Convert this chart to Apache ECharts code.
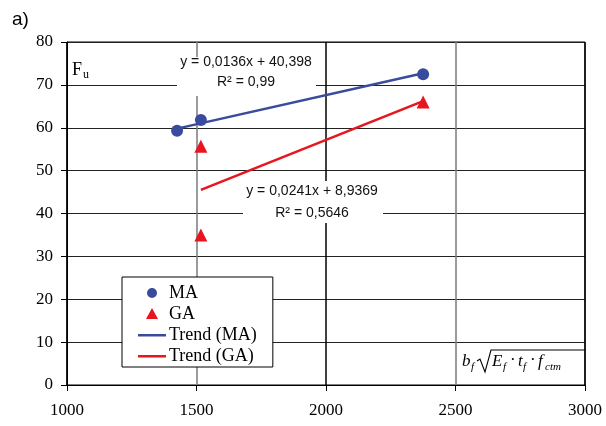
<!DOCTYPE html>
<html><head><meta charset="utf-8">
<script src="https://cdn.jsdelivr.net/npm/echarts@6/dist/echarts.min.js"></script>
<style>html,body{margin:0;padding:0;background:#fff}#c{width:606px;height:426px}</style>
</head><body><div id="c"></div>
<script>
// Data
var maX = [1425, 1517, 2375];
var maY = [59.3, 61.8, 72.5];
var gaX = [1517, 1517, 2375];
var gaY = [55.7, 35.0, 66.0];
var trendMAx = [1425, 2375];
var trendMAy = [59.8, 72.7];
var trendGAx = [1517, 2375];
var trendGAy = [45.5, 66.2];
var xTicks = [1000, 1500, 2000, 2500, 3000];
var yTicks = [0, 10, 20, 30, 40, 50, 60, 70, 80];
var eqMA = ['y = 0,0136x + 40,398', 'R² = 0,99'];
var eqGA = ['y = 0,0241x + 8,9369', 'R² = 0,5646'];

function pairs(xs, ys){ return xs.map(function(x,i){return [x, ys[i]];}); }

var serif = '"Liberation Serif", "Times New Roman", serif';
var sans = '"Liberation Sans", Arial, sans-serif';
var lineIcon = 'path://M0,0 M0,6 L28,6 L28,8.5 L0,8.5 Z M28,14';
var chart = echarts.init(document.getElementById('c'));
chart.setOption({
  animation: false,
  backgroundColor: '#fff',
  grid: {left: 67, right: 21, top: 42, bottom: 41, show: true, borderColor: '#000', borderWidth: 1},
  xAxis: {
    type: 'value', min: xTicks[0], max: xTicks[xTicks.length-1], interval: 500,
    axisLine: {show: true, lineStyle: {color: '#000', width: 1}},
    axisTick: {show: true, length: 6, lineStyle: {color: '#000'}},
    axisLabel: {color: '#000', fontFamily: serif, fontSize: 17, margin: 17, formatter: function(v){return String(v);}},
    splitLine: {show: true, lineStyle: {color: ['#000', '#7a7a7a', '#000', '#7a7a7a', '#000'], width: 1.5}}
  },
  yAxis: {
    type: 'value', min: yTicks[0], max: yTicks[yTicks.length-1], interval: 10,
    axisLine: {show: true, lineStyle: {color: '#000', width: 1}},
    axisTick: {show: true, length: 6, lineStyle: {color: '#000'}},
    axisLabel: {color: '#000', fontFamily: serif, fontSize: 17, margin: 14, formatter: function(v){return String(v);}},
    splitLine: {show: true, lineStyle: {color: '#222', width: 1}}
  },
  legend: {
    orient: 'vertical', left: 122, top: 277,
    backgroundColor: '#fff', borderColor: '#000', borderWidth: 1,
    padding: [7, 16, 2, 16], itemGap: 3, itemWidth: 28, itemHeight: 14,
    textStyle: {fontFamily: serif, fontSize: 18, color: '#000', padding: [0,0,0,-2]},
    data: [
      {name: 'MA', icon: 'path://M0,0 M14,2 a5,5 0 1,0 0.01,0 Z M28,14'},
      {name: 'GA', icon: 'path://M0,0 M14,1 L20,12 L8,12 Z M28,14'},
      {name: 'Trend (MA)', icon: lineIcon},
      {name: 'Trend (GA)', icon: lineIcon}
    ]
  },
  series: [
    {name: 'Trend (MA)', type: 'line', data: pairs(trendMAx, trendMAy), showSymbol: false, symbol: 'none',
     lineStyle: {color: '#3a4a9c', width: 2.5}, itemStyle: {color: '#3a4a9c'}, z: 3},
    {name: 'Trend (GA)', type: 'line', data: pairs(trendGAx, trendGAy), showSymbol: false, symbol: 'none',
     lineStyle: {color: '#e8141e', width: 2.5}, itemStyle: {color: '#e8141e'}, z: 3},
    {name: 'MA', type: 'scatter', data: pairs(maX, maY), symbol: 'circle', symbolSize: 12,
     itemStyle: {color: '#3a4a9c', opacity: 1}, z: 4},
    {name: 'GA', type: 'scatter', data: pairs(gaX, gaY), symbol: 'triangle', symbolSize: 13,
     itemStyle: {color: '#e8141e', opacity: 1}, z: 4}
  ],
  graphic: [
    {type: 'rect', shape: {x: 177, y: 57, width: 139, height: 39}, style: {fill: '#fff'}, z: 50},
    {type: 'text', x: 246, y: 62, z: 51, style: {text: eqMA[0], font: '14px ' + sans, fill: '#111', align: 'center', verticalAlign: 'middle'}},
    {type: 'text', x: 246, y: 82, z: 51, style: {text: eqMA[1], font: '14px ' + sans, fill: '#111', align: 'center', verticalAlign: 'middle'}},
    {type: 'rect', shape: {x: 243, y: 181, width: 140, height: 42}, style: {fill: '#fff'}, z: 50},
    {type: 'text', x: 312, y: 191, z: 51, style: {text: eqGA[0], font: '14px ' + sans, fill: '#111', align: 'center', verticalAlign: 'middle'}},
    {type: 'text', x: 312, y: 213, z: 51, style: {text: eqGA[1], font: '14px ' + sans, fill: '#111', align: 'center', verticalAlign: 'middle'}},
    {type: 'text', x: 12, y: 20, z: 51, style: {text: 'a)', font: '19px ' + sans, fill: '#000', verticalAlign: 'middle'}},
    {type: 'rect', shape: {x: 68, y: 55, width: 26, height: 26}, style: {fill: '#fff'}, z: 50},
    {type: 'text', x: 72, y: 70, z: 51, style: {text: 'F', font: '18px ' + serif, fill: '#000', verticalAlign: 'middle'}},
    {type: 'text', x: 83, y: 75, z: 51, style: {text: 'u', font: '12px ' + serif, fill: '#000', verticalAlign: 'middle'}},
    // formula
    {type: 'rect', shape: {x: 457, y: 345, width: 127, height: 38}, style: {fill: '#fff'}, z: 50},
    {type: 'text', x: 462, y: 362, z: 51, style: {text: 'b', font: 'italic 17px ' + serif, fill: '#000', verticalAlign: 'middle'}},
    {type: 'text', x: 471, y: 367, z: 51, style: {text: 'f', font: 'italic 11px ' + serif, fill: '#000', verticalAlign: 'middle'}},
    {type: 'polyline', z: 51, shape: {points: [[477, 361], [480, 359], [485, 372], [491, 350], [585, 350]]}, style: {stroke: '#000', lineWidth: 1.1, fill: null}},
    {type: 'text', x: 492, y: 362, z: 51, style: {text: 'E', font: 'italic 17px ' + serif, fill: '#000', verticalAlign: 'middle'}},
    {type: 'text', x: 503, y: 367, z: 51, style: {text: 'f', font: 'italic 11px ' + serif, fill: '#000', verticalAlign: 'middle'}},
    {type: 'text', x: 510, y: 361, z: 51, style: {text: '·', font: '17px ' + serif, fill: '#000', verticalAlign: 'middle'}},
    {type: 'text', x: 518, y: 362, z: 51, style: {text: 't', font: 'italic 17px ' + serif, fill: '#000', verticalAlign: 'middle'}},
    {type: 'text', x: 523, y: 367, z: 51, style: {text: 'f', font: 'italic 11px ' + serif, fill: '#000', verticalAlign: 'middle'}},
    {type: 'text', x: 530, y: 361, z: 51, style: {text: '·', font: '17px ' + serif, fill: '#000', verticalAlign: 'middle'}},
    {type: 'text', x: 538, y: 362, z: 51, style: {text: 'f', font: 'italic 17px ' + serif, fill: '#000', verticalAlign: 'middle'}},
    {type: 'text', x: 545, y: 367, z: 51, style: {text: 'ctm', font: 'italic 11px ' + serif, fill: '#000', verticalAlign: 'middle'}}
  ]
});
</script>
</body></html>
